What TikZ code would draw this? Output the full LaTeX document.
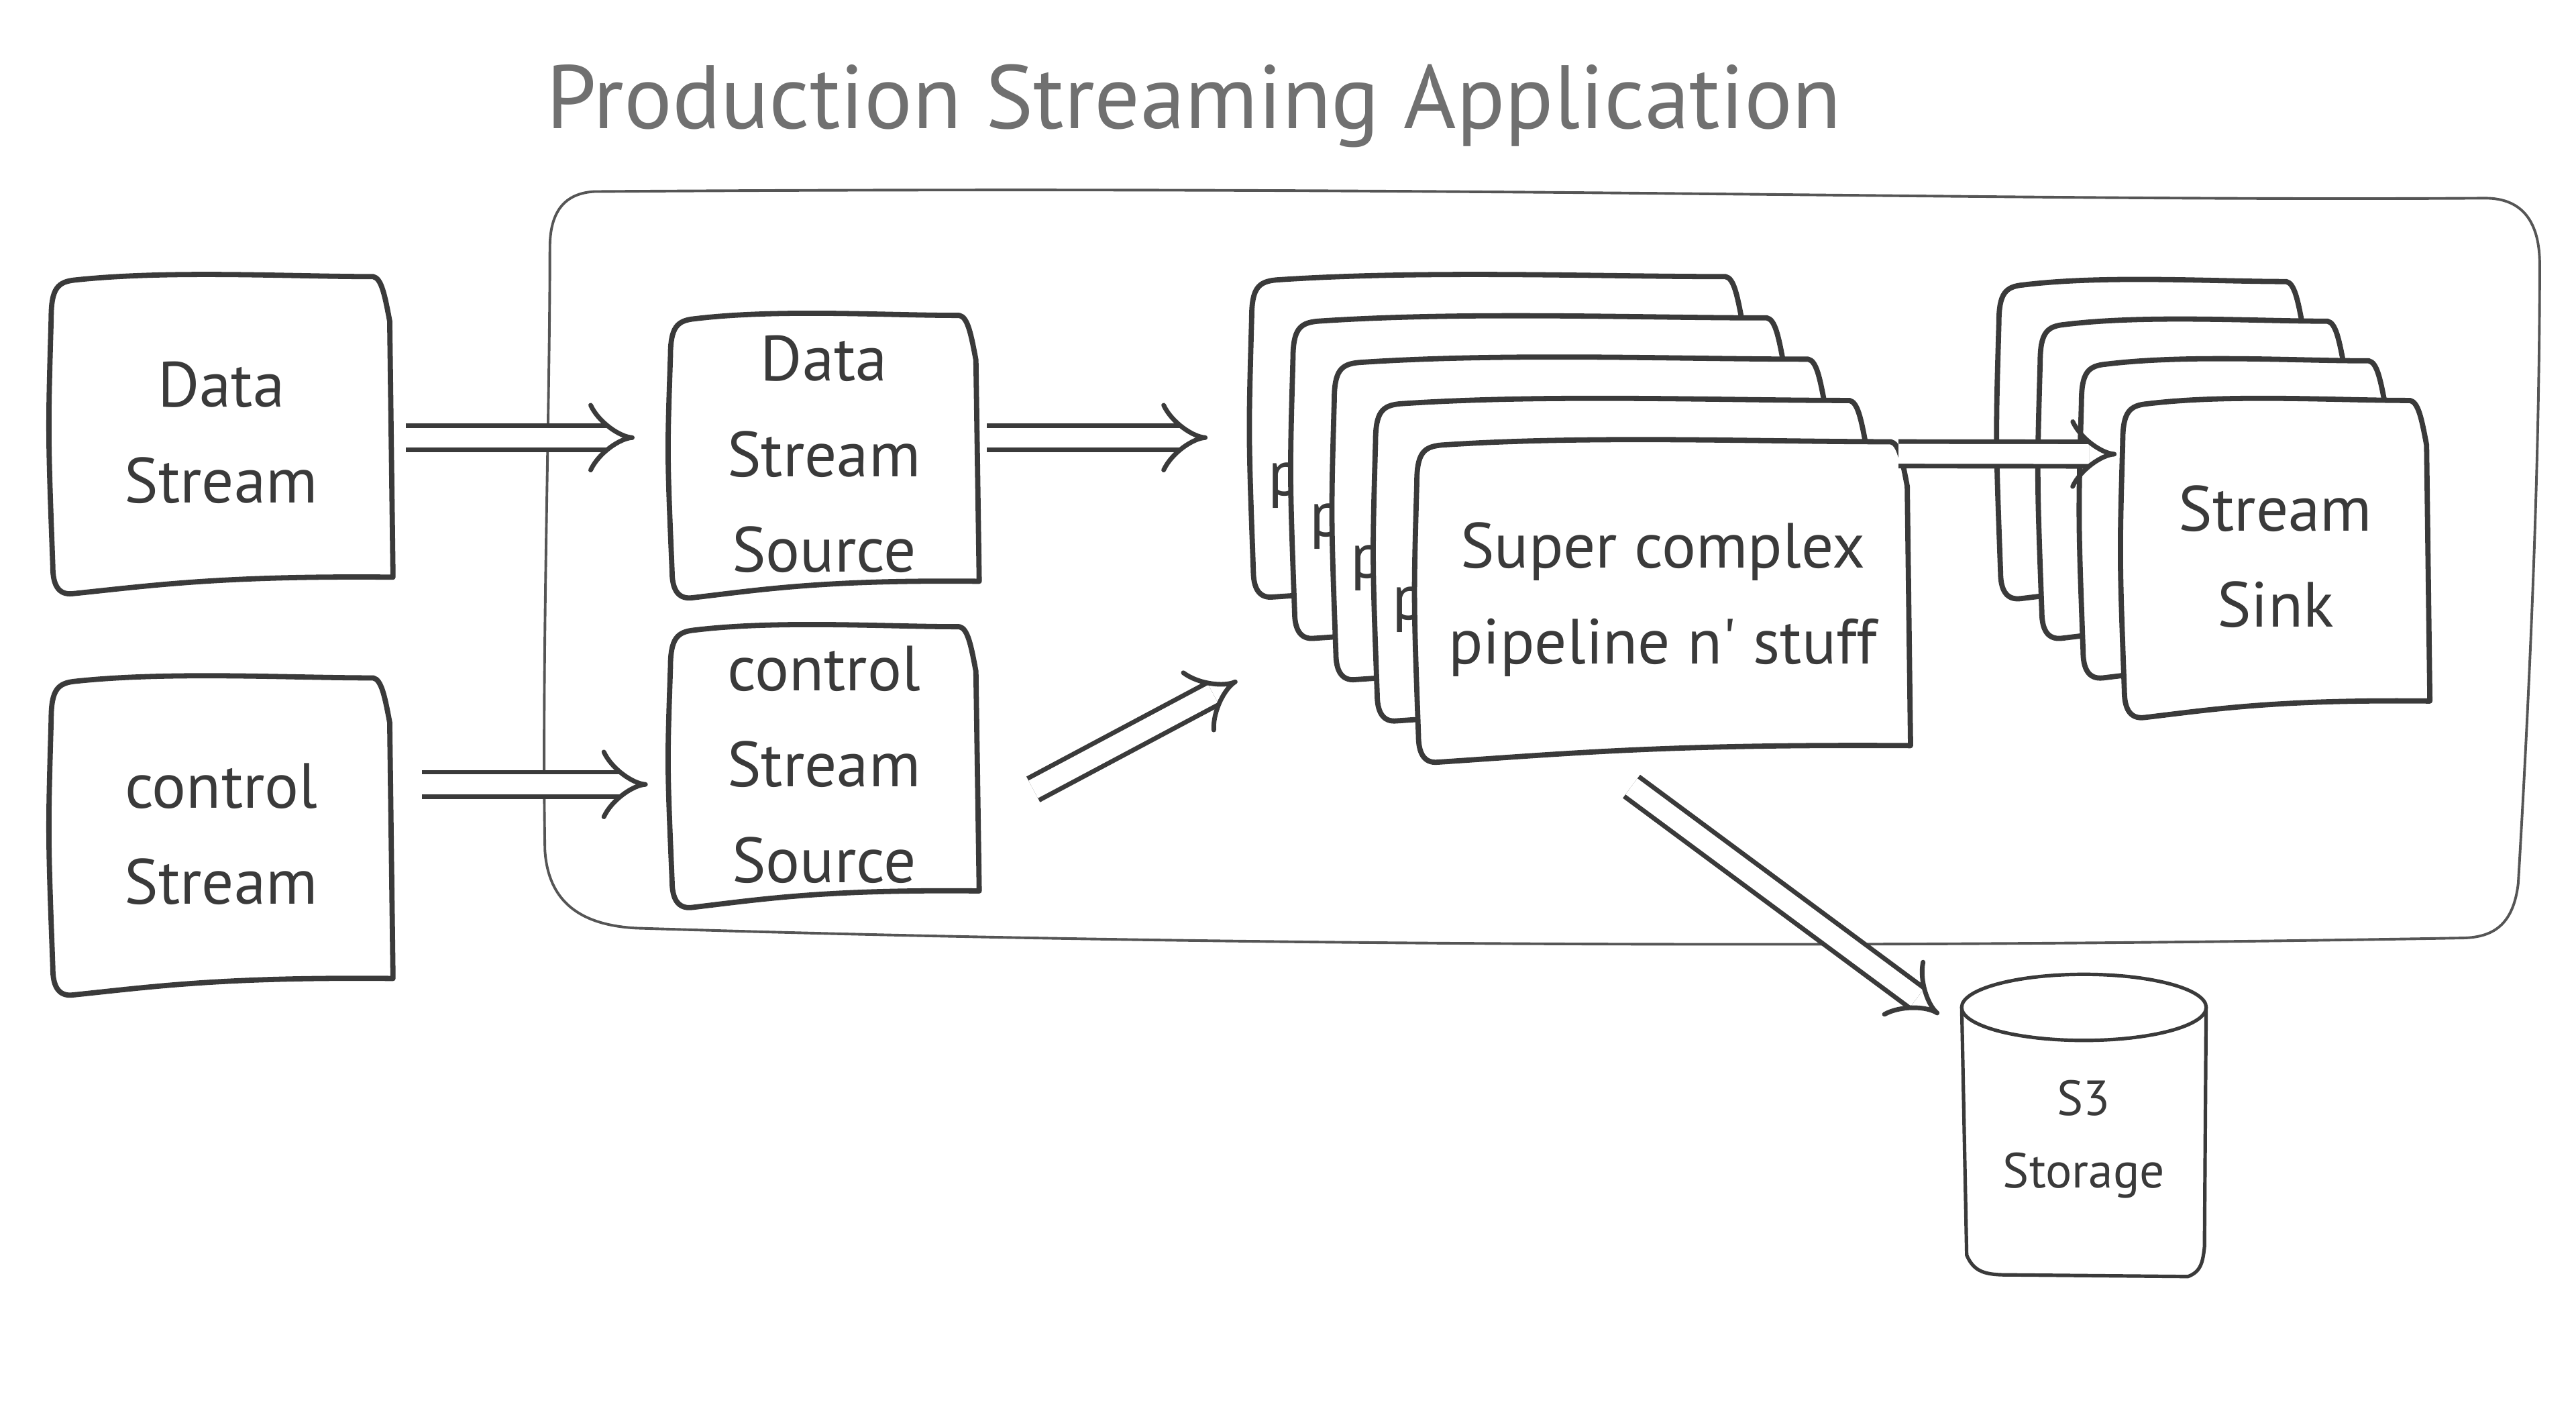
\documentclass[tikz,border=0pt]{standalone}
\usepackage{fontspec}
\newfontfamily\handfont{PT Sans}
\usetikzlibrary{arrows.meta}

\definecolor{inkgray}{HTML}{3A3A3A}
\definecolor{titlegray}{HTML}{707070}
\definecolor{framegray}{HTML}{555555}

\tikzset{
  boxline/.style={draw=inkgray, fill=white, line width=0.9pt, line join=round},
  boxtext/.style={align=center, text=inkgray, inner sep=0pt,
    font=\handfont\fontsize{11}{16.5}\selectfont},
  flowarrow/.style={draw=inkgray, double=white, double distance=1.2mm,
    line width=0.8pt, -{Implies[length=3mm, width=4.4mm]}},
  frameline/.style={draw=framegray, line width=0.45pt}
}

% hand drawn box: name, centre, width, height, text
\newcommand{\sketchbox}[5]{%
  \begin{scope}[shift={#2}]
    \pgfmathsetmacro{\bl}{-#3/2}\pgfmathsetmacro{\br}{#3/2}
    \pgfmathsetmacro{\bt}{-#4/2}\pgfmathsetmacro{\bb}{#4/2}
    \path[boxline] (\bl+2,\bb-16)
      .. controls (\bl-1,0) .. (\bl+1,\bt+28)
      .. controls (\bl+1,\bt+10) and (\bl+5,\bt+6) .. (\bl+16,\bt+5)
      .. controls (\bl+0.35*#3,\bt-1) and (\br-0.3*#3,\bt+3) .. (\br-12,\bt+3)
      .. controls (\br-7,\bt+4) and (\br-5,\bt+14) .. (\br-2,\bt+30)
      -- (\br,\bb-10)
      .. controls (\bl+0.5*#3,\bb-11) and (\bl+0.3*#3,\bb-5) .. (\bl+14,\bb)
      .. controls (\bl+5,\bb+1) and (\bl+2,\bb-6) .. cycle;
  \end{scope}
  \node[boxtext, minimum width=#3*0.01cm, minimum height=#4*0.01cm] (#1) at #2 {#5};
}

\begin{document}
\begin{tikzpicture}[x=0.01cm, y=-0.01cm]
\useasboundingbox (0,0) rectangle (1560,864);

% application frame
\node[text=titlegray, font=\handfont\fontsize{15.5}{18}\selectfont] (title) at (723,64) {Production Streaming Application};
\draw[frameline] (360,116) .. controls (900,112) and (1200,122) .. (1505,120)
  .. controls (1528,120) and (1538,135) .. (1538,160)
  .. controls (1538,300) and (1530,450) .. (1525,535)
  .. controls (1522,560) and (1510,568) .. (1490,568)
  .. controls (1100,575) and (700,572) .. (385,562)
  .. controls (350,560) and (332,545) .. (330,515)
  .. controls (328,400) and (333,250) .. (333,150)
  .. controls (333,128) and (342,117) .. cycle;

% inputs
\sketchbox{ds}{(134,262)}{208}{195}{Data\\Stream}
\sketchbox{cs}{(134,505)}{208}{195}{control\\Stream}

% sources
\sketchbox{dss}{(499,275)}{188}{174}{Data\\Stream\\Source}
\sketchbox{css}{(499,463)}{188}{173}{control\\Stream\\Source}

% pipeline copies, only a bit of their text shows
\foreach \k in {0,...,3}{
  \sketchbox{p\k}{({907+25*\k},{263+25*\k})}{300}{197}{}
  \node[boxtext, anchor=base west] (pfrag\k) at ([shift={(11,37)}]p\k.west) {p};
}
\sketchbox{p4}{(1007,363)}{300}{197}{Super complex\\pipeline n' stuff}

% sinks
\foreach \k in {0,...,2}{
  \sketchbox{k\k}{({1303+25*\k},{265+24*\k})}{187}{195}{}
}
\sketchbox{k3}{(1378,337)}{187}{195}{Stream\\Sink}

% S3
\draw[boxline, line width=0.6pt] (1188,610) -- (1191,760)
  .. controls (1196,772) and (1205,772) .. (1220,772)
  -- (1325,773) .. controls (1333,770) and (1334,764) .. (1335,755)
  -- (1336,610);
\draw[boxline, line width=0.6pt] (1262,610) ellipse [x radius=0.74cm, y radius=0.2cm];
\node[boxtext, font=\handfont\fontsize{8.5}{12.5}\selectfont,
  minimum width=1.48cm, minimum height=1.8cm] (s3) at (1262,690) {S3\\Storage};

% flows
\draw[flowarrow] ([shift={(7,3)}]ds.east) -- ([shift={(-20,-10)}]dss.west);
\draw[flowarrow] ([shift={(17,-30)}]cs.east) -- ([shift={(-12,12)}]css.west);
\draw[flowarrow] ([shift={(4,-10)}]dss.east) -- ([shift={(-25,2)}]p0.west);
\draw[flowarrow] ([shift={(32,15)}]css.east) -- ([shift={(-7,50)}]p0.south west);
\draw[flowarrow] ([shift={(-8,11)}]p4.north east) -- ([shift={(-2,-62)}]k3.west);
\draw[flowarrow] ([shift={(-19,14)}]p4.south) -- ([shift={(-13,15)}]s3.north west);
\end{tikzpicture}
\end{document}
